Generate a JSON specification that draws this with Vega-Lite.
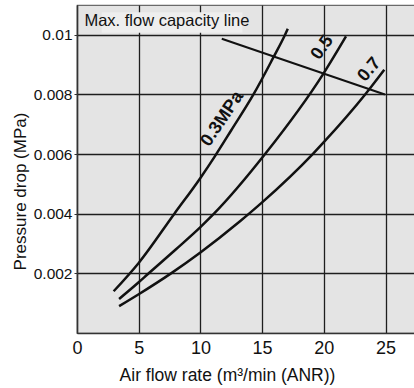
{
  "$schema": "https://vega.github.io/schema/vega-lite/v6.json",
  "width": 338,
  "height": 328,
  "autosize": {"type": "none"},
  "padding": {"left": 77, "top": 5, "right": 0, "bottom": 55},
  "background": "white",
  "config": {
    "font": "Liberation Sans",
    "view": {"fill": "#e4e4e4", "stroke": "#6a6a6a", "strokeWidth": 1.2}
  },
  "datasets": {
    "box": [{"x": 2.0, "x2": 13.4, "y": 0.01007, "y2": 0.01076}],
    "curves": [
      {"series": "0.3", "x": 2.97, "y": 0.0014},
      {"series": "0.3", "x": 5, "y": 0.00235},
      {"series": "0.3", "x": 7.89, "y": 0.004},
      {"series": "0.3", "x": 10, "y": 0.0052},
      {"series": "0.3", "x": 11.13, "y": 0.0059},
      {"series": "0.3", "x": 12.5, "y": 0.0068},
      {"series": "0.3", "x": 14.3, "y": 0.008},
      {"series": "0.3", "x": 15.86, "y": 0.0092},
      {"series": "0.3", "x": 16.86, "y": 0.01},
      {"series": "0.3", "x": 17.08, "y": 0.0102},
      {"series": "0.5", "x": 3.41, "y": 0.00114},
      {"series": "0.5", "x": 5, "y": 0.0017},
      {"series": "0.5", "x": 5.7, "y": 0.00196},
      {"series": "0.5", "x": 8, "y": 0.0028},
      {"series": "0.5", "x": 10, "y": 0.00355},
      {"series": "0.5", "x": 11.1, "y": 0.004},
      {"series": "0.5", "x": 15.24, "y": 0.006},
      {"series": "0.5", "x": 19.97, "y": 0.0087},
      {"series": "0.5", "x": 21.8, "y": 0.00995},
      {"series": "0.7", "x": 3.41, "y": 0.0009},
      {"series": "0.7", "x": 5, "y": 0.0013},
      {"series": "0.7", "x": 7.62, "y": 0.002},
      {"series": "0.7", "x": 10, "y": 0.0027},
      {"series": "0.7", "x": 13.16, "y": 0.00373},
      {"series": "0.7", "x": 15, "y": 0.00438},
      {"series": "0.7", "x": 19.1, "y": 0.006},
      {"series": "0.7", "x": 20, "y": 0.0064},
      {"series": "0.7", "x": 23.35, "y": 0.008},
      {"series": "0.7", "x": 24.9, "y": 0.00883}
    ],
    "maxline": [
      {"x": 11.73, "y": 0.00987},
      {"x": 24.95, "y": 0.008}
    ],
    "labels": [
      {"label": "0.3MPa", "x": 11.78, "y": 0.00718},
      {"label": "0.5", "x": 19.89, "y": 0.00957},
      {"label": "0.7", "x": 23.7, "y": 0.00883}
    ],
    "note": [{"label": "Max. flow capacity line", "x": 0.6, "y": 0.01045}]
  },
  "layer": [
    {
      "data": {"name": "box"},
      "mark": {"type": "rect", "fill": "#eeeeee"},
      "encoding": {
        "x": {
          "field": "x", "type": "quantitative",
          "scale": {"domain": [0, 27.39], "nice": false, "zero": false},
          "axis": {
            "values": [0, 5, 10, 15, 20, 25],
            "grid": true, "gridColor": "#1e1e1e", "gridWidth": 1.3,
            "domainColor": "#333333", "domainWidth": 1.4,
            "ticks": false,
            "labelFontSize": 18, "labelPadding": 6, "labelColor": "#111111",
            "labelFlush": false, "labelOverlap": false,
            "title": "Air flow rate (m³/min (ANR))",
            "titleFontSize": 17.5, "titleFontWeight": "normal", "titleColor": "#111111",
            "titleX": 150, "titleY": 47, "titleBaseline": "alphabetic", "titleAlign": "center"
          }
        },
        "x2": {"field": "x2"},
        "y": {
          "field": "y", "type": "quantitative",
          "scale": {"domain": [0, 0.011], "nice": false, "zero": false},
          "axis": {
            "values": [0.002, 0.004, 0.006, 0.008, 0.01],
            "format": "~g",
            "grid": true, "gridColor": "#1e1e1e", "gridWidth": 1.3,
            "domainColor": "#333333", "domainWidth": 1.4,
            "ticks": true, "tickSize": 3, "tickColor": "#333333",
            "labelFontSize": 15.5, "labelPadding": 2, "labelColor": "#111111",
            "labelFlush": false, "labelOverlap": false,
            "title": "Pressure drop (MPa)",
            "titleFontSize": 17, "titleFontWeight": "normal", "titleColor": "#111111",
            "titleX": -57, "titleY": 186, "titleBaseline": "middle", "titleAlign": "center", "titleAngle": -90
          }
        },
        "y2": {"field": "y2"}
      }
    },
    {
      "data": {"name": "curves"},
      "mark": {"type": "line", "color": "#111111", "strokeWidth": 2.5, "interpolate": "monotone"},
      "encoding": {
        "x": {"field": "x", "type": "quantitative"},
        "y": {"field": "y", "type": "quantitative"},
        "detail": {"field": "series"}
      }
    },
    {
      "data": {"name": "maxline"},
      "mark": {"type": "line", "color": "#111111", "strokeWidth": 2},
      "encoding": {
        "x": {"field": "x", "type": "quantitative"},
        "y": {"field": "y", "type": "quantitative"}
      }
    },
    {
      "data": {"name": "labels"},
      "transform": [{"filter": "datum.label == '0.3MPa'"}],
      "mark": {"type": "text", "fontWeight": "bold", "fontSize": 18, "angle": -56, "align": "center", "baseline": "middle", "color": "#111111"},
      "encoding": {
        "x": {"field": "x", "type": "quantitative"},
        "y": {"field": "y", "type": "quantitative"},
        "text": {"field": "label"}
      }
    },
    {
      "data": {"name": "labels"},
      "transform": [{"filter": "datum.label == '0.5'"}],
      "mark": {"type": "text", "fontWeight": "bold", "fontSize": 18, "angle": -55, "align": "center", "baseline": "middle", "color": "#111111"},
      "encoding": {
        "x": {"field": "x", "type": "quantitative"},
        "y": {"field": "y", "type": "quantitative"},
        "text": {"field": "label"}
      }
    },
    {
      "data": {"name": "labels"},
      "transform": [{"filter": "datum.label == '0.7'"}],
      "mark": {"type": "text", "fontWeight": "bold", "fontSize": 18, "angle": -50, "align": "center", "baseline": "middle", "color": "#111111"},
      "encoding": {
        "x": {"field": "x", "type": "quantitative"},
        "y": {"field": "y", "type": "quantitative"},
        "text": {"field": "label"}
      }
    },
    {
      "data": {"name": "note"},
      "mark": {"type": "text", "fontSize": 16.5, "align": "left", "baseline": "middle", "color": "#111111"},
      "encoding": {
        "x": {"field": "x", "type": "quantitative"},
        "y": {"field": "y", "type": "quantitative"},
        "text": {"field": "label"}
      }
    }
  ]
}
